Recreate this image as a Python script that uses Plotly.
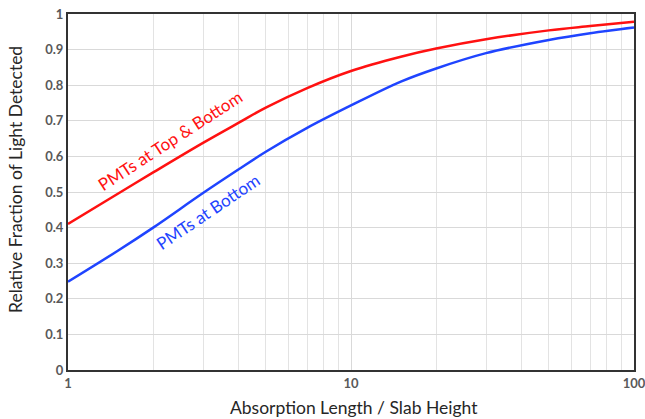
import plotly.graph_objects as go

absorption = [1, 1.5, 2, 3, 4, 5, 7, 10, 15, 20, 30, 50, 70, 100]
top_bottom = [0.41, 0.495, 0.555, 0.638, 0.694, 0.737, 0.792, 0.840, 0.880, 0.903, 0.929, 0.954, 0.966, 0.978]
bottom_only = [0.248, 0.335, 0.40, 0.497, 0.563, 0.613, 0.68, 0.743, 0.81, 0.847, 0.89, 0.927, 0.946, 0.962]

major_x = [1, 10, 100]
minor_x = [2, 3, 4, 5, 6, 7, 8, 9, 20, 30, 40, 50, 60, 70, 80, 90]
y_ticks = [0, 0.1, 0.2, 0.3, 0.4, 0.5, 0.6, 0.7, 0.8, 0.9, 1]
y_labels = ["0", "0.1", "0.2", "0.3", "0.4", "0.5", "0.6", "0.7", "0.8", "0.9", "1"]

RED = "#ff1111"
BLUE = "#1f44ff"
FONT = "Lato"

L, R, T, B = 68, 11, 14, 49
W, H = 645, 419
pw, ph = W - L - R, H - T - B

fig = go.Figure()
fig.add_trace(go.Scatter(x=absorption, y=top_bottom, mode="lines",
                         line=dict(color=RED, width=2.5, shape="spline"),
                         name="PMTs at Top & Bottom", showlegend=False))
fig.add_trace(go.Scatter(x=absorption, y=bottom_only, mode="lines",
                         line=dict(color=BLUE, width=2.5, shape="spline"),
                         name="PMTs at Bottom", showlegend=False))

fig.add_annotation(x=0.36, y=0.646, xref="x", yref="y", text="PMTs at Top & Bottom",
                   showarrow=False, textangle=-33,
                   font=dict(family=FONT, size=17, color=RED))
fig.add_annotation(x=0.495, y=0.444, xref="x", yref="y", text="PMTs at Bottom",
                   showarrow=False, textangle=-34,
                   font=dict(family=FONT, size=17, color=BLUE))

# axis titles placed at reference pixel positions
fig.add_annotation(x=(354 - L) / pw, y=(H - B - 407) / ph, xref="paper", yref="paper",
                   xanchor="center", yanchor="middle",
                   text="Absorption Length / Slab Height", showarrow=False,
                   font=dict(family=FONT, size=17.5, color="#262626"))
fig.add_annotation(x=(15 - L) / pw, y=(H - B - 180) / ph, xref="paper", yref="paper",
                   xanchor="center", yanchor="middle",
                   text="Relative Fraction of Light Detected", showarrow=False, textangle=-90,
                   font=dict(family=FONT, size=17.5, color="#262626"))

fig.update_layout(
    width=W, height=H,
    margin=dict(l=L, r=R, t=T, b=B),
    paper_bgcolor="white", plot_bgcolor="white",
    font=dict(family=FONT),
    xaxis=dict(
        type="log", range=[0, 2], automargin=False,
        tickvals=major_x, ticktext=[str(v) for v in major_x],
        tickfont=dict(family=FONT, size=13, color="#595959", weight="bold"),
        ticklabeloverflow="allow",
        showgrid=True, gridcolor="#d9d9d9", gridwidth=1,
        minor=dict(tickvals=minor_x, showgrid=True, gridcolor="#e3e3e3", gridwidth=1, ticks=""),
        showline=True, linecolor="#333333", linewidth=2, mirror=True,
        ticks="", zeroline=False,
    ),
    yaxis=dict(
        range=[0, 1], automargin=False,
        tickvals=y_ticks, ticktext=y_labels,
        tickfont=dict(family=FONT, size=13, color="#595959", weight="bold"),
        ticklabeloverflow="allow",
        showgrid=True, gridcolor="#d9d9d9", gridwidth=1,
        showline=True, linecolor="#333333", linewidth=2, mirror=True,
        ticks="", zeroline=False,
    ),
)

fig.write_html("out.html")
